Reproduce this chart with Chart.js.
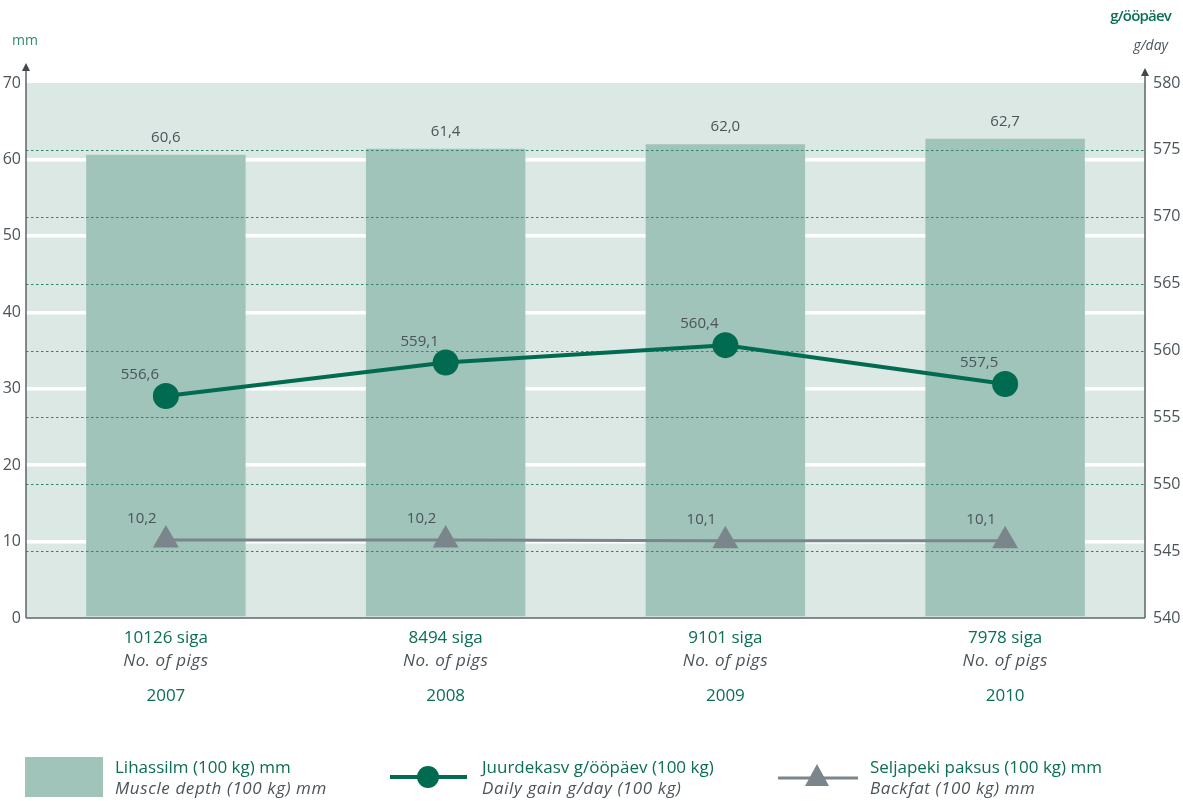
<!DOCTYPE html>
<html>
<head>
<meta charset="utf-8">
<script src="https://cdn.jsdelivr.net/npm/chart.js@4.4.1/dist/chart.umd.min.js"></script>
<style>
  body { margin: 0; background: #fff; }
  #wrap { width: 1183px; height: 801px; position: relative; }
</style>
</head>
<body>
<div id="wrap"><canvas id="chart"></canvas></div>
<script>
const years = ['2007', '2008', '2009', '2010'];
const pigCounts = ['10126 siga', '8494 siga', '9101 siga', '7978 siga'];
const muscleDepth = [60.6, 61.4, 62.0, 62.7];
const dailyGain = [556.6, 559.1, 560.4, 557.5];
const backfat = [10.2, 10.2, 10.1, 10.1];

const GREEN = '#006b50';
const TEXT_GREEN = '#0b6e55';
const GRAY_TEXT = '#4a5459';
const BAR = '#a0c3ba';
const PLOT_BG = '#dbe8e4';
const FAT = '#7b868c';
const FONT = '"Open Sans", sans-serif';

const fmt = v => v.toFixed(1).replace('.', ',');

// background of plot, dotted right-axis lines, axes with arrows, labels, legend
const decor = {
  id: 'decor',
  beforeDraw(chart) {
    const { ctx, chartArea: a } = chart;
    ctx.save();
    ctx.fillStyle = PLOT_BG;
    ctx.fillRect(a.left, a.top, a.right - a.left, a.bottom - a.top);
    ctx.restore();
  },
  afterDatasetDraw(chart, args) {
    if (args.index !== 0) return;
    const { ctx, chartArea: a } = chart;
    const y2 = chart.scales.y2;
    ctx.save();
    ctx.strokeStyle = '#2f8a6c';
    ctx.lineWidth = 1.2;
    ctx.setLineDash([2.5, 2.5]);
    y2.ticks.forEach(t => {
      if (t.value <= 540 || t.value >= 580) return;
      const y = Math.round(y2.getPixelForValue(t.value)) + 0.5;
      ctx.beginPath();
      ctx.moveTo(a.left, y);
      ctx.lineTo(a.right, y);
      ctx.stroke();
    });
    ctx.restore();
  },
  afterDraw(chart) {
    const { ctx, chartArea: a } = chart;
    const x = chart.scales.x;
    const y = chart.scales.y;
    const y2 = chart.scales.y2;
    ctx.save();

    // baseline
    ctx.strokeStyle = 'rgba(110,120,125,0.85)';
    ctx.lineWidth = 2;
    ctx.beginPath();
    ctx.moveTo(a.left, a.bottom);
    ctx.lineTo(a.right, a.bottom);
    ctx.stroke();

    // vertical axes with arrows
    const axis = (ax, tipY) => {
      ctx.strokeStyle = '#5b6468';
      ctx.fillStyle = '#3f484c';
      ctx.lineWidth = 1.5;
      ctx.beginPath();
      ctx.moveTo(ax, a.bottom);
      ctx.lineTo(ax, tipY + 6);
      ctx.stroke();
      ctx.beginPath();
      ctx.moveTo(ax, tipY);
      ctx.lineTo(ax - 4, tipY + 8);
      ctx.lineTo(ax + 4, tipY + 8);
      ctx.closePath();
      ctx.fill();
    };
    axis(a.left, 63);
    axis(a.right, 68);

    // units
    ctx.textBaseline = 'middle';
    ctx.fillStyle = '#2e8b6e';
    ctx.font = '14px ' + FONT;
    ctx.textAlign = 'left';
    ctx.fillText('mm', 12, 41);
    ctx.fillStyle = TEXT_GREEN;
    ctx.font = '600 15px ' + FONT;
    ctx.textAlign = 'right';
    ctx.letterSpacing = '-0.8px';
    ctx.fillText('g/ööpäev', 1171, 17);
    ctx.letterSpacing = '0px';
    ctx.fillStyle = GRAY_TEXT;
    ctx.font = 'italic 14px ' + FONT;
    ctx.fillText('g/day', 1168, 46);

    // value labels
    ctx.textAlign = 'center';
    ctx.font = '15px ' + FONT;
    ctx.fillStyle = GRAY_TEXT;
    muscleDepth.forEach((v, i) => {
      ctx.fillText(fmt(v), x.getPixelForValue(i), y.getPixelForValue(v) - 17);
    });
    dailyGain.forEach((v, i) => {
      ctx.fillText(fmt(v), x.getPixelForValue(i) - 26, y2.getPixelForValue(v) - 21);
    });
    backfat.forEach((v, i) => {
      ctx.fillText(fmt(v), x.getPixelForValue(i) - 24, y.getPixelForValue(v) - 21);
    });

    // category labels
    years.forEach((yr, i) => {
      const cx = x.getPixelForValue(i);
      ctx.fillStyle = TEXT_GREEN;
      ctx.font = '17px ' + FONT;
      ctx.fillText(pigCounts[i], cx, 638);
      ctx.fillStyle = GRAY_TEXT;
      ctx.font = 'italic 17px ' + FONT;
      ctx.letterSpacing = '0.5px';
      ctx.fillText('No. of pigs', cx, 661);
      ctx.letterSpacing = '0px';
      ctx.fillStyle = TEXT_GREEN;
      ctx.font = '500 17px ' + FONT;
      ctx.fillText(yr, cx, 696);
    });

    // legend
    const ly = 777;
    ctx.fillStyle = BAR;
    ctx.fillRect(25, 757, 78, 40);
    ctx.strokeStyle = GREEN;
    ctx.lineWidth = 4;
    ctx.beginPath();
    ctx.moveTo(390, ly);
    ctx.lineTo(467, ly);
    ctx.stroke();
    ctx.fillStyle = GREEN;
    ctx.beginPath();
    ctx.arc(428, ly, 11, 0, Math.PI * 2);
    ctx.fill();
    ctx.strokeStyle = FAT;
    ctx.lineWidth = 3;
    ctx.beginPath();
    ctx.moveTo(778, ly + 1);
    ctx.lineTo(858, ly + 1);
    ctx.stroke();
    ctx.fillStyle = FAT;
    ctx.beginPath();
    ctx.moveTo(817, ly - 13);
    ctx.lineTo(829, ly + 9);
    ctx.lineTo(805, ly + 9);
    ctx.closePath();
    ctx.fill();

    const legendText = [
      [115, 'Lihassilm (100 kg) mm', 'Muscle depth (100 kg) mm'],
      [482, 'Juurdekasv g/ööpäev (100 kg)', 'Daily gain g/day (100 kg)'],
      [870, 'Seljapeki paksus (100 kg) mm', 'Backfat (100 kg) mm']
    ];
    ctx.textAlign = 'left';
    legendText.forEach(([lx, t1, t2]) => {
      ctx.fillStyle = TEXT_GREEN;
      ctx.font = '17px ' + FONT;
      ctx.fillText(t1, lx, 768);
      ctx.fillStyle = GRAY_TEXT;
      ctx.font = 'italic 17px ' + FONT;
      ctx.letterSpacing = '0.6px';
      ctx.fillText(t2, lx, 789);
      ctx.letterSpacing = '0px';
    });
    ctx.restore();
  }
};

new Chart(document.getElementById('chart'), {
  data: {
    labels: years,
    datasets: [
      {
        type: 'bar',
        label: 'Lihassilm (100 kg) mm',
        data: muscleDepth,
        yAxisID: 'y',
        backgroundColor: BAR,
        categoryPercentage: 1,
        barPercentage: 0.57,
        order: 3
      },
      {
        type: 'line',
        label: 'Juurdekasv g/ööpäev (100 kg)',
        data: dailyGain,
        yAxisID: 'y2',
        borderColor: GREEN,
        backgroundColor: GREEN,
        borderWidth: 4,
        pointRadius: 11,
        pointStyle: 'circle',
        tension: 0,
        order: 1
      },
      {
        type: 'line',
        label: 'Seljapeki paksus (100 kg) mm',
        data: backfat,
        yAxisID: 'y',
        borderColor: FAT,
        backgroundColor: FAT,
        borderWidth: 3,
        pointRadius: 12,
        pointStyle: 'triangle',
        tension: 0,
        order: 2
      }
    ]
  },
  options: {
    responsive: true,
    maintainAspectRatio: false,
    animation: false,
    layout: { padding: { top: 83, bottom: 183, left: 0, right: 0 } },
    plugins: { legend: { display: false }, tooltip: { enabled: false } },
    scales: {
      x: { display: false, offset: true },
      y: {
        position: 'left',
        min: 0, max: 70,
        border: { display: false },
        grid: {
          drawTicks: false,
          lineWidth: 3.5,
          color: c => (c.tick && (c.tick.value === 0 || c.tick.value === 70)) ? 'rgba(0,0,0,0)' : '#ffffff'
        },
        ticks: { stepSize: 10, padding: 5, color: GRAY_TEXT, font: { family: FONT, size: 16 } },
        afterFit(s) { s.width = 26; }
      },
      y2: {
        position: 'right',
        min: 540, max: 580,
        border: { display: false },
        grid: { display: false, drawOnChartArea: false, drawTicks: false },
        ticks: { stepSize: 5, padding: 8, color: GRAY_TEXT, font: { family: FONT, size: 16 } },
        afterFit(s) { s.width = 38; }
      }
    }
  },
  plugins: [decor]
});
</script>
</body>
</html>
